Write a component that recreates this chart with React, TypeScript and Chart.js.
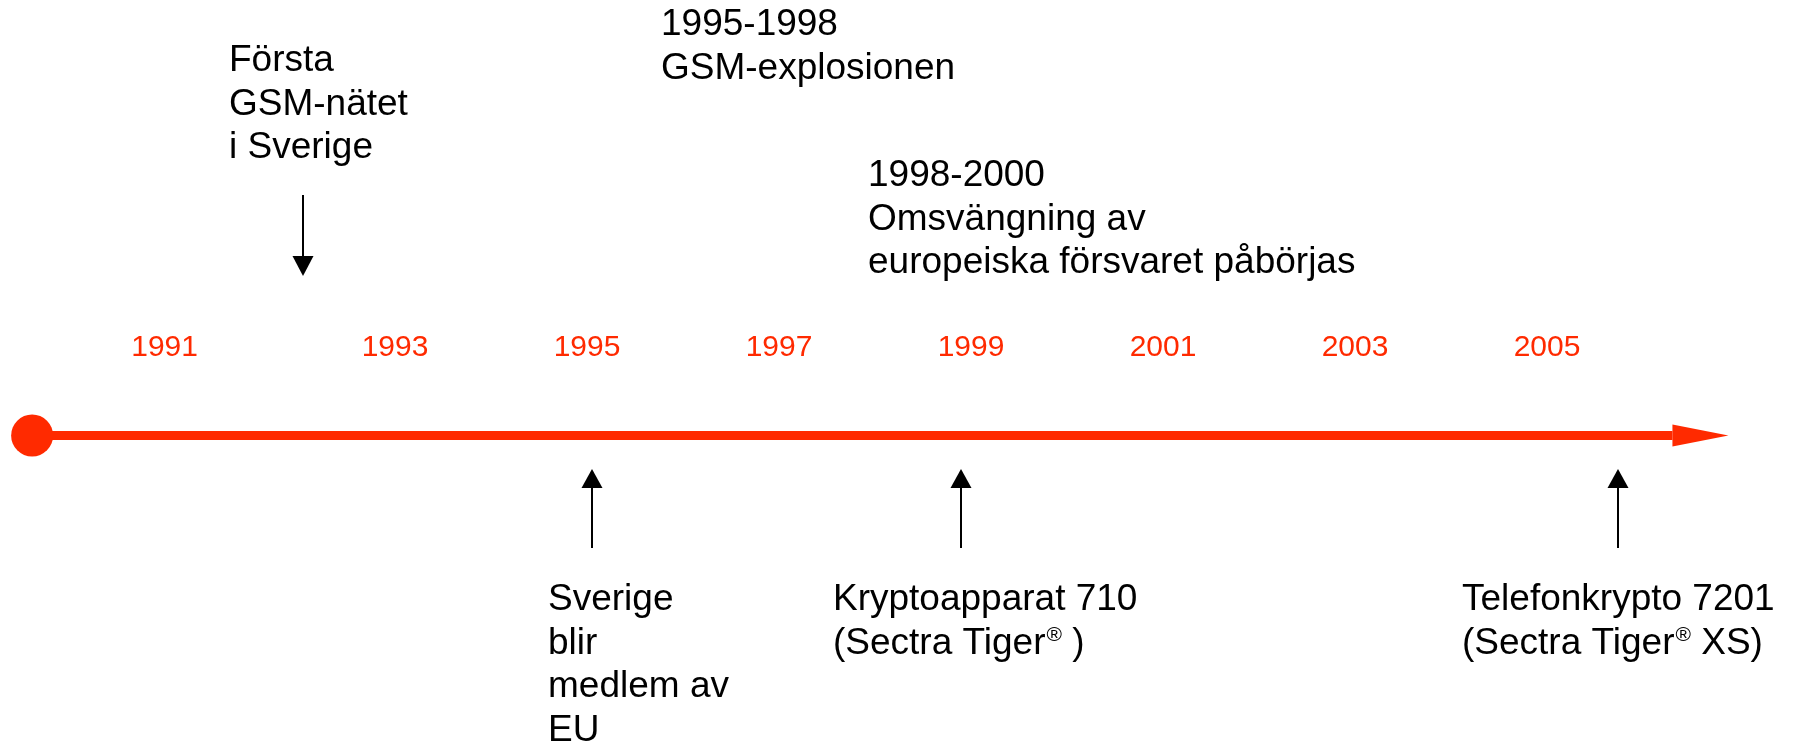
import React, { useEffect, useRef } from 'react';
import { Chart, registerables } from 'chart.js';

Chart.register(...registerables);

// ---- Data ----
const yearLabels = ['1991', '1993', '1995', '1997', '1999', '2001', '2003', '2005'];
const yearPositions = [1990.6, 1993, 1995, 1997, 1999, 2001, 2003, 2005];

const timelineStart = 1989.22;
const timelineEnd = 2006.89;

const eventYears = [1992.04, 1995.05, 1998.9, 2005.74];
const eventTexts = [
  ['Första', 'GSM-nätet', 'i Sverige'],
  ['Sverige', 'blir', 'medlem av', 'EU'],
  ['Kryptoapparat 710', '(Sectra Tiger® )'],
  ['Telefonkrypto 7201', '(Sectra Tiger® XS)'],
];
const eventSides = ['above', 'below', 'below', 'below'];

const periodTexts = [
  ['1995-1998', 'GSM-explosionen'],
  ['1998-2000', 'Omsvängning av', 'europeiska försvaret påbörjas'],
];

// ---- Layout (pixels) ----
const W = 1794;
const H = 746;
const X_MIN = 1993 - 395 / 96;
const X_MAX = X_MIN + W / 96;
const TL_Y = 435.5;
const TL_WIDTH = 9;
const DOT_R = 21;
const HEAD_LEN = 56;
const HEAD_HALF = 11;
const YEAR_BASELINE = 356;
const FONT = '"Liberation Sans", Arial, sans-serif';
const TEXT_SIZE = 37;
const LINE_H = 43.5;
const eventTextOffsets = [-74, -44, -128, -156];
const aboveTextBaseline = 71;
const belowTextBaseline = 610;
const periodTextX = [661, 868];
const periodTextBaseline = [35, 186];
const RED = '#ff2a00';

function drawRich(ctx: CanvasRenderingContext2D, text: string, x: number, y: number) {
  const parts = text.split('®');
  let cx = x;
  parts.forEach((p, i) => {
    ctx.font = `${TEXT_SIZE}px ${FONT}`;
    ctx.fillText(p, cx, y);
    cx += ctx.measureText(p).width;
    if (i < parts.length - 1) {
      ctx.font = `21px ${FONT}`;
      ctx.fillText('®', cx + 1, y - 13);
      cx += ctx.measureText('®').width + 1;
    }
  });
}

const timelinePlugin = {
  id: 'timelinePlugin',
  beforeDatasetsDraw(chart: any) {
    const ctx: CanvasRenderingContext2D = chart.ctx;
    const xs = chart.scales.x;
    const ys = chart.scales.y;
    const ty = ys.getPixelForValue(TL_Y);
    const x0 = xs.getPixelForValue(timelineStart);
    const x1 = xs.getPixelForValue(timelineEnd);
    ctx.save();
    ctx.fillStyle = RED;
    ctx.fillRect(x0, ty - TL_WIDTH / 2, x1 - HEAD_LEN - x0, TL_WIDTH);
    ctx.beginPath();
    ctx.moveTo(x1, ty);
    ctx.lineTo(x1 - HEAD_LEN, ty - HEAD_HALF);
    ctx.lineTo(x1 - HEAD_LEN, ty + HEAD_HALF);
    ctx.closePath();
    ctx.fill();
    ctx.restore();
  },
  afterDatasetsDraw(chart: any) {
    const ctx: CanvasRenderingContext2D = chart.ctx;
    const xs = chart.scales.x;
    ctx.save();
    // year labels
    ctx.fillStyle = RED;
    ctx.font = `30px ${FONT}`;
    ctx.textAlign = 'center';
    ctx.textBaseline = 'alphabetic';
    yearLabels.forEach((lab, i) => {
      ctx.fillText(lab, xs.getPixelForValue(yearPositions[i]), YEAR_BASELINE);
    });
    // event arrows and texts
    ctx.fillStyle = '#000';
    ctx.strokeStyle = '#000';
    ctx.lineWidth = 2;
    ctx.textAlign = 'left';
    eventYears.forEach((yr, i) => {
      const ax = Math.round(xs.getPixelForValue(yr));
      if (eventSides[i] === 'above') {
        const top = 195, tip = 276, hb = 256;
        ctx.beginPath();
        ctx.moveTo(ax, top);
        ctx.lineTo(ax, hb);
        ctx.stroke();
        ctx.beginPath();
        ctx.moveTo(ax, tip);
        ctx.lineTo(ax - 10.5, hb);
        ctx.lineTo(ax + 10.5, hb);
        ctx.closePath();
        ctx.fill();
        eventTexts[i].forEach((t, j) => {
          drawRich(ctx, t, ax + eventTextOffsets[i], aboveTextBaseline + j * LINE_H);
        });
      } else {
        const bottom = 548, tip = 469, hb = 488;
        ctx.beginPath();
        ctx.moveTo(ax, bottom);
        ctx.lineTo(ax, hb);
        ctx.stroke();
        ctx.beginPath();
        ctx.moveTo(ax, tip);
        ctx.lineTo(ax - 10.5, hb);
        ctx.lineTo(ax + 10.5, hb);
        ctx.closePath();
        ctx.fill();
        eventTexts[i].forEach((t, j) => {
          drawRich(ctx, t, ax + eventTextOffsets[i], belowTextBaseline + j * LINE_H);
        });
      }
    });
    // period texts
    periodTexts.forEach((lines, i) => {
      lines.forEach((t, j) => {
        drawRich(ctx, t, periodTextX[i], periodTextBaseline[i] + j * LINE_H);
      });
    });
    ctx.restore();
  },
};

export default function App() {
  const ref = useRef<HTMLCanvasElement>(null);
  useEffect(() => {
    const canvas = ref.current;
    if (!canvas) return;
    const chart = new Chart(canvas, {
      type: 'scatter',
      data: {
        datasets: [
          {
            data: [{ x: timelineStart, y: TL_Y }],
            pointRadius: DOT_R,
            pointHoverRadius: DOT_R,
            backgroundColor: RED,
            borderWidth: 0,
            clip: false,
          },
        ],
      },
      options: {
        animation: false,
        responsive: false,
        events: [],
        layout: { padding: 0, autoPadding: false },
        plugins: { legend: { display: false }, tooltip: { enabled: false } },
        scales: {
          x: { type: 'linear', display: false, min: X_MIN, max: X_MAX },
          y: { type: 'linear', display: false, min: 0, max: H, reverse: true },
        },
      },
      plugins: [timelinePlugin],
    } as any);
    return () => chart.destroy();
  }, []);
  return (
    <div style={{ position: 'fixed', left: 0, top: 0, width: W, height: H, background: '#fff' }}>
      <canvas ref={ref} width={W} height={H} style={{ width: W, height: H, display: 'block' }} />
    </div>
  );
}
